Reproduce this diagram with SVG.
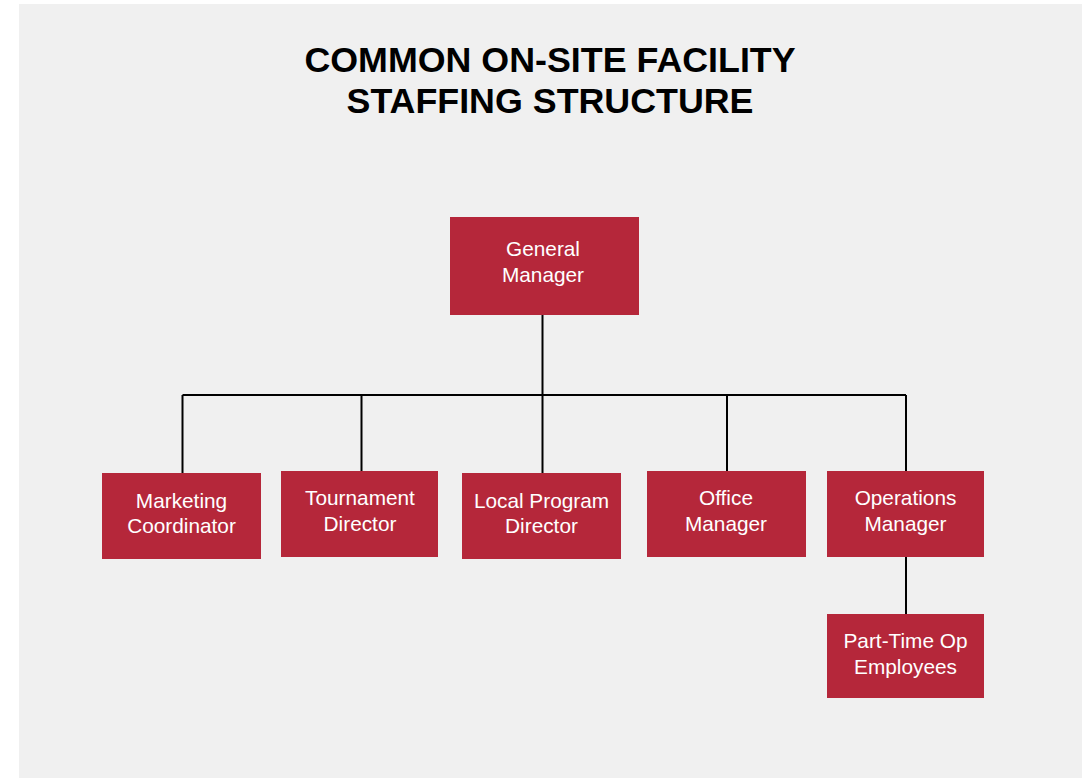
<svg xmlns="http://www.w3.org/2000/svg" width="1089" height="778" viewBox="0 0 1089 778">
<style>
.box{fill:#B5273A}
.lbl{fill:#FFFFFF;font-family:"Liberation Sans",Arial,sans-serif;font-size:20.8px;text-anchor:middle}
.title{fill:#000000;font-family:"Liberation Sans",Arial,sans-serif;font-size:35.8px;font-weight:bold;text-anchor:middle}
.conn{stroke:#000000;stroke-width:2;fill:none}
</style>
<rect x="0" y="0" width="1089" height="778" fill="#FFFFFF"/>
<rect x="19" y="4" width="1063" height="774" fill="#F0F0F0"/>
<g id="title">
<text class="title" x="550" y="72">COMMON ON-SITE FACILITY</text>
<text class="title" x="550" y="113">STAFFING STRUCTURE</text>
</g>
<g id="connectors">
<path class="conn" d="M542.5 315 V395"/>
<path class="conn" d="M182.5 395 H906"/>
<path class="conn" d="M182.5 395 V473"/>
<path class="conn" d="M361.5 395 V471"/>
<path class="conn" d="M542.5 395 V473"/>
<path class="conn" d="M727 395 V471"/>
<path class="conn" d="M906 395 V471"/>
<path class="conn" d="M906 557 V614"/>
</g>
<g id="general-manager">
<rect class="box" x="450" y="217" width="189" height="98"/>
<text class="lbl" x="543" y="256">General</text>
<text class="lbl" x="543" y="282">Manager</text>
</g>
<g id="marketing-coordinator">
<rect class="box" x="102" y="473" width="159" height="86"/>
<text class="lbl" x="181.5" y="508">Marketing</text>
<text class="lbl" x="181.5" y="533">Coordinator</text>
</g>
<g id="tournament-director">
<rect class="box" x="281" y="471" width="157" height="86"/>
<text class="lbl" x="360" y="505">Tournament</text>
<text class="lbl" x="360" y="531">Director</text>
</g>
<g id="local-program-director">
<rect class="box" x="462" y="473" width="159" height="86"/>
<text class="lbl" x="541.5" y="508">Local Program</text>
<text class="lbl" x="541.5" y="533">Director</text>
</g>
<g id="office-manager">
<rect class="box" x="647" y="471" width="159" height="86"/>
<text class="lbl" x="726" y="505">Office</text>
<text class="lbl" x="726" y="531">Manager</text>
</g>
<g id="operations-manager">
<rect class="box" x="827" y="471" width="157" height="86"/>
<text class="lbl" x="905.5" y="505">Operations</text>
<text class="lbl" x="905.5" y="531">Manager</text>
</g>
<g id="part-time-op-employees">
<rect class="box" x="827" y="614" width="157" height="84"/>
<text class="lbl" x="905.5" y="647.5">Part-Time Op</text>
<text class="lbl" x="905.5" y="673.5">Employees</text>
</g>
</svg>
